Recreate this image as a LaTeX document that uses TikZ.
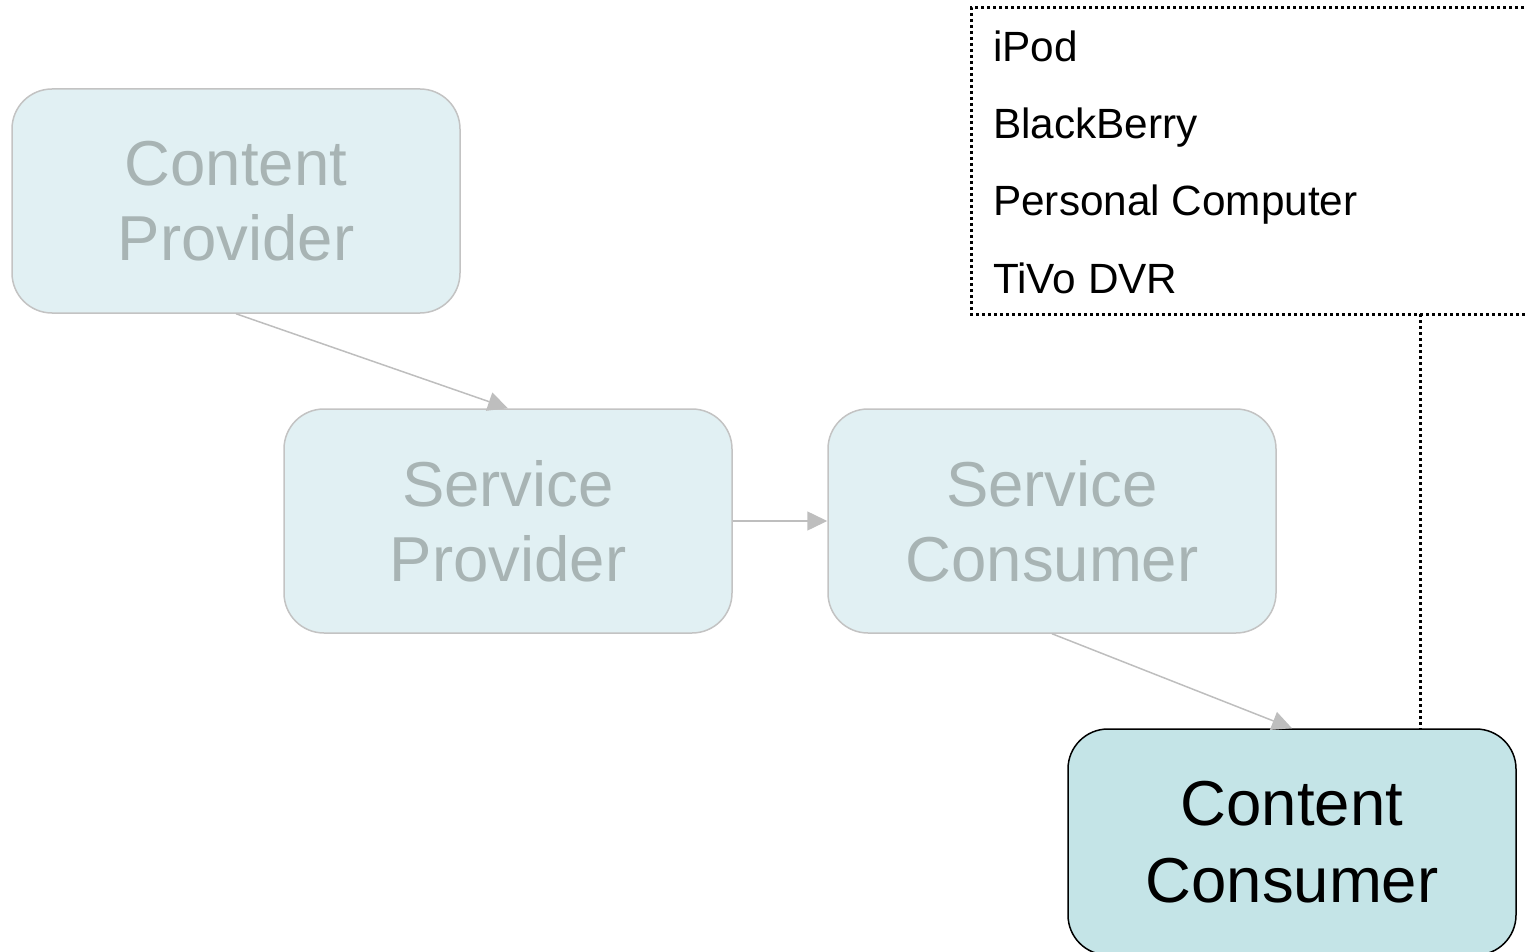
\documentclass[tikz,border=0pt]{standalone}
\usepackage{fontspec}
\setmainfont{Liberation Sans}
\usetikzlibrary{arrows.meta}
\definecolor{lightfill}{HTML}{E1F0F3}
\definecolor{lightborder}{HTML}{C3C3C3}
\definecolor{lighttext}{HTML}{A8B4B4}
\definecolor{darkfill}{HTML}{C4E4E7}
\definecolor{arrowgrey}{HTML}{BEBEBE}
\tikzset{
  faded/.style={draw=lightborder, line width=1.5pt, fill=lightfill, rounded corners=40pt,
    minimum width=448pt, minimum height=224pt, text=lighttext, align=center,
    font=\fontsize{63.5}{75}\selectfont, inner sep=0pt},
  active/.style={draw=black, line width=1.5pt, fill=darkfill, rounded corners=40pt,
    minimum width=448pt, minimum height=226pt, text=black, align=center,
    font=\fontsize{63.5}{77}\selectfont, inner sep=0pt},
  flow/.style={draw=arrowgrey, line width=1.5pt, -{Triangle[length=20pt,width=19pt]}},
  dotline/.style={draw=black, line width=3pt, dash pattern=on 3pt off 3pt},
  listitem/.style={anchor=base west, font=\fontsize{42.3}{50}\selectfont, inner sep=0pt}
}
\begin{document}
\begin{tikzpicture}[x=1pt,y=-1pt]
\useasboundingbox (0,0) rectangle (1526,952);
\clip (0,0) rectangle (1526,952);
\node[faded] (cp) at (236,201) {Content\\Provider};
\node[faded] (sp) at (508,521) {Service\\Provider};
\node[faded] (sc) at (1052,521) {Service\\Consumer};
\node[active] (cc) at (1292,842) {Content\\Consumer};
\draw[dotline] (1560,8) -- (971,8) -- (971,314) -- (1560,314);
\coordinate (lb) at (1420,314);
\node[listitem] (i1) at (993,62) {iPod};
\node[listitem] (i2) at (993,139) {BlackBerry};
\node[listitem] (i3) at (993,216) {Personal Computer};
\node[listitem] (i4) at (993,293) {TiVo DVR};
\draw[dotline] (lb) -- (lb |- cc.north);
\draw[flow] (cp.south) -- (sp.north);
\draw[flow] (sp.east) -- (sc.west);
\draw[flow] (sc.south) -- (cc.north);
\end{tikzpicture}
\end{document}
